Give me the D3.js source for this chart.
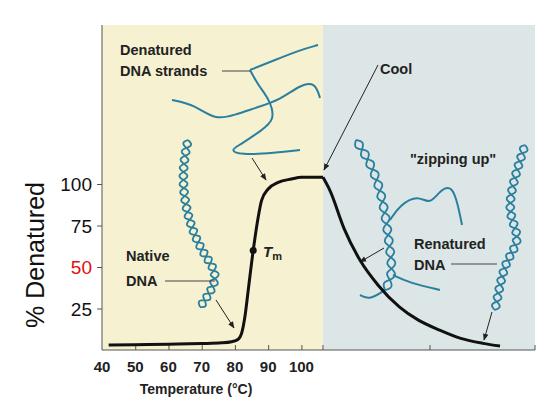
<!DOCTYPE html>
<html><head><meta charset="utf-8">
<script src="https://cdn.jsdelivr.net/npm/d3@7"></script>
<style>body{margin:0;background:#fff}svg{display:block}</style>
</head><body>
<svg id="c" width="553" height="415"></svg>
<script>
// heating curve: temperature (C) vs % denatured
var heatTemp = [42, 50, 60, 70, 76, 79, 81, 82, 83, 84, 85.5, 87, 88, 90, 93, 97, 100, 106.5];
var heatPct  = [3, 3.2, 3.5, 3.9, 4.3, 5, 6.5, 10, 20, 36, 60, 80, 90, 97, 101, 103, 104, 104];
// cooling curve: relative time (0-100) vs % denatured
var coolTime = [0, 3.3, 10, 17.5, 26, 36, 45, 55, 65, 75.5, 83.5];
var coolPct  = [104, 96, 73, 54, 39, 26, 18, 12, 7, 4, 2.4];
var xTicks = [40, 50, 60, 70, 80, 90, 100];
var yTicks = [25, 50, 75, 100];

var svg = d3.select("#c");
var x = d3.scaleLinear().domain([40, 106.5]).range([102, 323]);
var xc = d3.scaleLinear().domain([0, 100]).range([323, 535]);
var y = d3.scaleLinear().domain([0, 100]).range([350, 184]);
var font = "Liberation Sans, Arial, sans-serif";

// panels
svg.append("rect").attr("x", 102).attr("y", 25).attr("width", 221).attr("height", 325).attr("fill", "#f6f1d1");
svg.append("rect").attr("x", 323).attr("y", 25).attr("width", 212).attr("height", 325).attr("fill", "#dde6e6");

var defs = svg.append("defs");
defs.append("marker").attr("id", "ah").attr("viewBox", "0 0 10 10").attr("refX", 9).attr("refY", 5)
  .attr("markerWidth", 7).attr("markerHeight", 7).attr("orient", "auto")
  .append("path").attr("d", "M0,1L10,5L0,9z").attr("fill", "#222");

// decorative strands
var strand = d3.line().curve(d3.curveBasis);
var blue = "#2a7f9e";
function single(pts) {
  svg.append("path").attr("d", strand(pts)).attr("fill", "none").attr("stroke", blue).attr("stroke-width", 2);
}
function helix(pts, amp, n) {
  var p = svg.append("path").attr("d", strand(pts)).attr("fill", "none").attr("stroke", "none");
  var node = p.node(), L = node.getTotalLength();
  [0, Math.PI].forEach(function (ph) {
    var out = [];
    for (var i = 0; i <= 240; i++) {
      var s = L * i / 240, a = node.getPointAtLength(s), b = node.getPointAtLength(Math.min(L, s + 1));
      var dx = b.x - a.x, dy = b.y - a.y, m = Math.hypot(dx, dy) || 1;
      var o = amp * Math.sin(i / 240 * n * 2 * Math.PI + ph);
      out.push([a.x - dy / m * o, a.y + dx / m * o]);
    }
    svg.append("path").attr("d", d3.line().curve(d3.curveBasis)(out)).attr("fill", "none").attr("stroke", blue).attr("stroke-width", 1.8);
  });
}
single([[250, 70], [275, 60], [300, 50], [318, 45]]);
single([[250, 70], [258, 85], [270, 100], [275, 120], [262, 130], [240, 145], [230, 150], [240, 155], [275, 153], [300, 150]]);
single([[172, 100], [195, 105], [215, 120], [235, 115], [255, 108], [280, 100], [300, 85], [315, 82], [320, 98]]);
helix([[188, 140], [182, 170], [185, 210], [200, 250], [218, 272], [212, 290], [200, 307]], 4, 11);
helix([[356, 140], [375, 170], [385, 210], [390, 250], [393, 275], [385, 290]], 4, 7);
single([[385, 290], [370, 300], [360, 295]]);
single([[393, 275], [410, 283], [440, 290]]);
single([[390, 220], [400, 205], [418, 195], [430, 205], [440, 190], [452, 185], [458, 205], [462, 225]]);
helix([[525, 145], [512, 185], [508, 215], [522, 240], [505, 260], [497, 300], [495, 310]], 4, 10);

// arrows
function arrow(a, b) {
  svg.append("line").attr("x1", a[0]).attr("y1", a[1]).attr("x2", b[0]).attr("y2", b[1])
    .attr("stroke", "#222").attr("stroke-width", 1).attr("marker-end", "url(#ah)");
}
arrow([252, 158], [266, 180]);
arrow([378, 65], [324, 170]);
arrow([216, 300], [234, 328]);
arrow([384, 248], [360, 262]);
arrow([492, 312], [484, 340]);

// leaders
function lead(a, b) {
  svg.append("line").attr("x1", a[0]).attr("y1", a[1]).attr("x2", b[0]).attr("y2", b[1]).attr("stroke", "#444").attr("stroke-width", 1);
}
lead([222, 71], [250, 71]);
lead([165, 281], [215, 281]);
lead([451, 264], [497, 264]);

// axes
var xa = svg.append("g").attr("transform", "translate(0,350)");
xa.call(d3.axisBottom(x).tickValues(xTicks.slice(1)).tickSize(-5).tickFormat(""));
xa.select(".domain").attr("stroke", "#555").attr("d", "M102,0H535");
xa.selectAll(".tick line").attr("stroke", "#555");
[323, 430, 535].forEach(function (t) {
  xa.append("line").attr("x1", t).attr("x2", t).attr("y1", 0).attr("y2", -5).attr("stroke", "#555");
});
xTicks.forEach(function (t) {
  svg.append("text").attr("x", x(t)).attr("y", 372).attr("text-anchor", "middle")
    .attr("font-family", font).attr("font-weight", "bold").attr("font-size", 15)
    .attr("fill", "#222").text(t);
});
var ya = svg.append("g").attr("transform", "translate(102,0)");
ya.call(d3.axisLeft(y).tickValues(yTicks).tickSize(5).tickFormat(""));
ya.select(".domain").attr("stroke", "#555").attr("d", "M0,25V350");
ya.selectAll(".tick line").attr("stroke", "#555");
yTicks.forEach(function (t) {
  svg.append("text").attr("x", 92).attr("y", y(t) + 7).attr("text-anchor", "end")
    .attr("font-family", font).attr("font-size", 19)
    .attr("fill", t === 50 ? "#e01010" : "#111").text(t);
});

// curves
svg.append("path").datum(heatTemp.map(function (t, i) { return [x(t), y(heatPct[i])]; }))
  .attr("d", d3.line().curve(d3.curveMonotoneX)).attr("fill", "none").attr("stroke", "#111").attr("stroke-width", 3);
svg.append("path").datum(coolTime.map(function (t, i) { return [xc(t), y(coolPct[i])]; }))
  .attr("d", d3.line().curve(d3.curveMonotoneX)).attr("fill", "none").attr("stroke", "#111").attr("stroke-width", 3);
svg.append("circle").attr("cx", x(85.5)).attr("cy", y(60)).attr("r", 3.5).attr("fill", "#111");

// labels
function label(txt, px, py, size) {
  return svg.append("text").attr("x", px).attr("y", py).attr("font-family", font)
    .attr("font-weight", "bold").attr("font-size", size || 14.5).attr("fill", "#222").text(txt);
}
label("Denatured", 120, 55);
label("DNA strands", 120, 76);
label("Cool", 380, 74);
label("\"zipping up\"", 410, 164);
label("Native", 126, 261);
label("DNA", 126, 286);
label("Renatured", 414, 249);
label("DNA", 414, 270);
var tm = label("", 263, 257, 15);
tm.append("tspan").attr("font-style", "italic").text("T");
tm.append("tspan").attr("font-size", 11).attr("dy", 3).text("m");
svg.append("text").attr("x", 196).attr("y", 394).attr("text-anchor", "middle")
  .attr("font-family", font).attr("font-weight", "bold").attr("font-size", 14)
  .attr("fill", "#222").text("Temperature (°C)");
svg.append("text").attr("transform", "translate(44,255) rotate(-90)").attr("text-anchor", "middle")
  .attr("font-family", font).attr("font-size", 25).attr("fill", "#111").text("% Denatured");
</script>
</body></html>
